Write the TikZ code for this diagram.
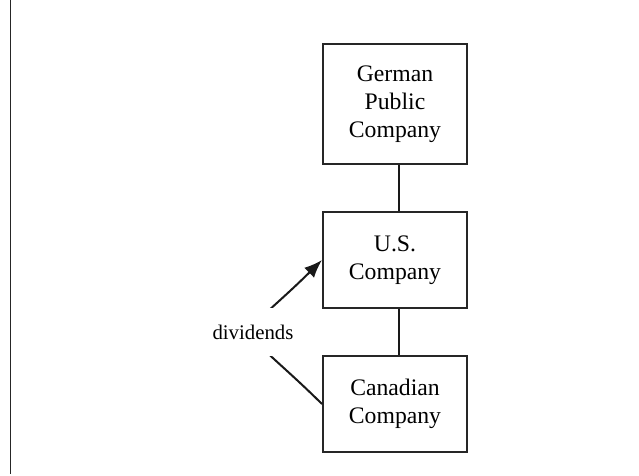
\documentclass[tikz,border=0pt]{standalone}
\usepackage{fontspec}
\setmainfont{Liberation Serif}
\usetikzlibrary{arrows.meta}
\begin{document}
\begin{tikzpicture}[x=1pt,y=-1pt,
  cobox/.style={draw=black!85,line width=2pt,minimum width=144pt,align=center,
    font=\fontsize{23.7}{28}\selectfont,inner sep=0pt},
  link/.style={draw=black!90,line width=2pt},
  flow/.style={draw=black!90,line width=2pt,-{Latex[length=18pt,width=14pt]}}]
\useasboundingbox (0,0) rectangle (639,475);
\fill[white] (0,0) rectangle (639,475);
\coordinate (lt) at (10.5,0);
\coordinate (lb) at (10.5,474);
\draw[line width=1.8pt,black!85] (lt) -- (lb);
\node[cobox,minimum height=120pt] (ger) at (395,104) {German\\Public\\Company};
\node[cobox,minimum height=96pt] (us) at (395,260) {U.S.\\Company};
\node[cobox,minimum height=96pt] (can) at (395,404) {Canadian\\Company};
\draw[link] ([xshift=4pt]ger.south) -- ([xshift=4pt]us.north);
\draw[link] ([xshift=4pt]us.south) -- ([xshift=4pt]can.north);
\draw[flow] (can.west) .. controls +(-89,-88) and +(-89,88) .. (us.west);
\node[fill=white,inner xsep=3pt,inner ysep=0pt,minimum height=48pt,
  font=\fontsize{20.8}{24}\selectfont] (lab) at (253,332) {dividends};
\end{tikzpicture}
\end{document}
